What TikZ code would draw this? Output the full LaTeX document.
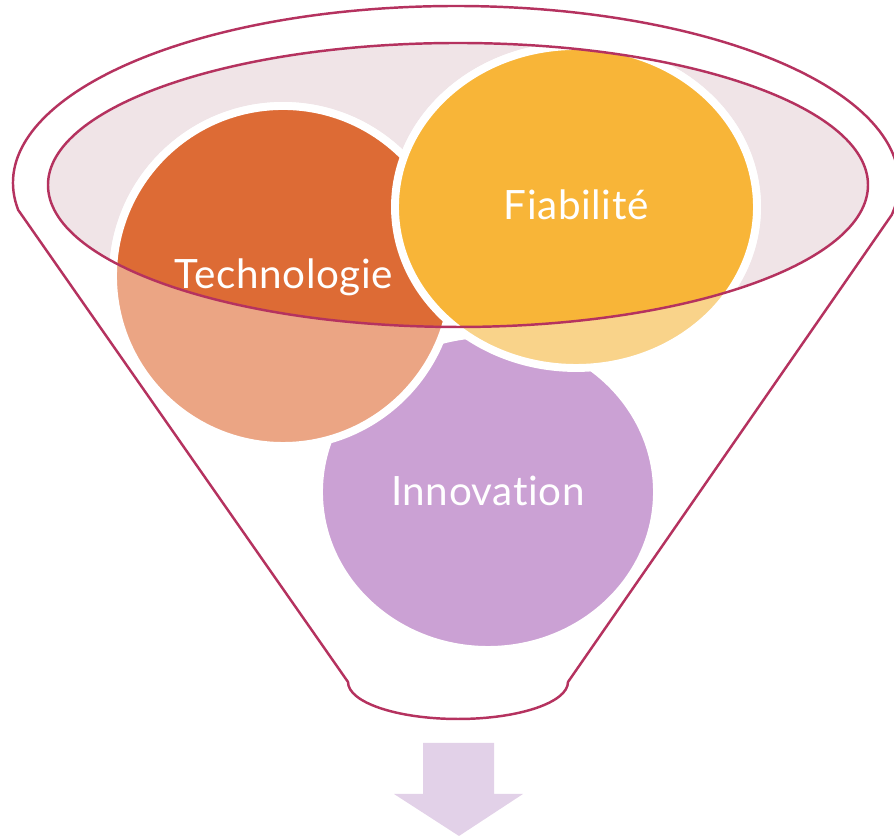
\documentclass[tikz,border=0pt]{standalone}
\usepackage{fontspec}
\setmainfont{Lato}[Ligatures=CommonOff]
\definecolor{rimred}{HTML}{B5325F}
\definecolor{glass}{HTML}{F0E4E7}
\definecolor{techdark}{HTML}{DD6B35}
\definecolor{techlight}{HTML}{EBA584}
\definecolor{fiabdark}{HTML}{F8B538}
\definecolor{fiablight}{HTML}{F9D38A}
\definecolor{innolight}{HTML}{CBA1D4}
\definecolor{arrowlila}{HTML}{E2D1E8}

\begin{document}
\begin{tikzpicture}[x=0.02cm,y=0.02cm,
  rim/.style={draw=rimred,line width=1.4pt},
  bubble/.style={draw=white,line width=4.5pt},
  bubbletext/.style={text=white,anchor=base,font=\fontsize{23}{23}\selectfont\addfontfeatures{LetterSpace=1.5}}]
\useasboundingbox (0,0) rectangle (894,837);
\coordinate (O) at (456,654);
\coordinate (G) at (458,652);
\coordinate (T) at (283,561);
\coordinate (F) at (576,630);
\coordinate (I) at (488,345);
\coordinate (B) at (458,155);
% funnel
\filldraw[rim,fill=white] (O) ++(188.77:443 and 177)
  arc[start angle=188.77,end angle=-10.4,x radius=443,y radius=177]
  -- (568,155) arc[start angle=0,end angle=-180,x radius=110,y radius=37] -- cycle;
\fill[glass] (G) ellipse[x radius=410,y radius=142];
% bubbles
\filldraw[bubble,fill=innolight] (I) ellipse[x radius=169,y radius=158];
\filldraw[bubble,fill=techlight] (T) circle[radius=170];
\filldraw[bubble,fill=fiablight] (F) ellipse[x radius=181,y radius=161];
\begin{scope}
\clip (G) ellipse[x radius=410,y radius=142];
\filldraw[bubble,fill=techdark] (T) circle[radius=170];
\filldraw[bubble,fill=fiabdark] (F) ellipse[x radius=181,y radius=161];
\end{scope}
\draw[rim] (G) ellipse[x radius=410,y radius=142];
% texts
\node[bubbletext] (tech) at (284,548) {Technologie};
\node[bubbletext] (fiab) at (576,617) {Fiabilité};
\node[bubbletext] (inno) at (488,331) {Innovation};
% arrow
\fill[arrowlila] (423,94) -- (494,94) -- (494,43) -- (523,43) -- (459,1)
  -- (394,43) -- (423,43) -- cycle;
\end{tikzpicture}
\end{document}
